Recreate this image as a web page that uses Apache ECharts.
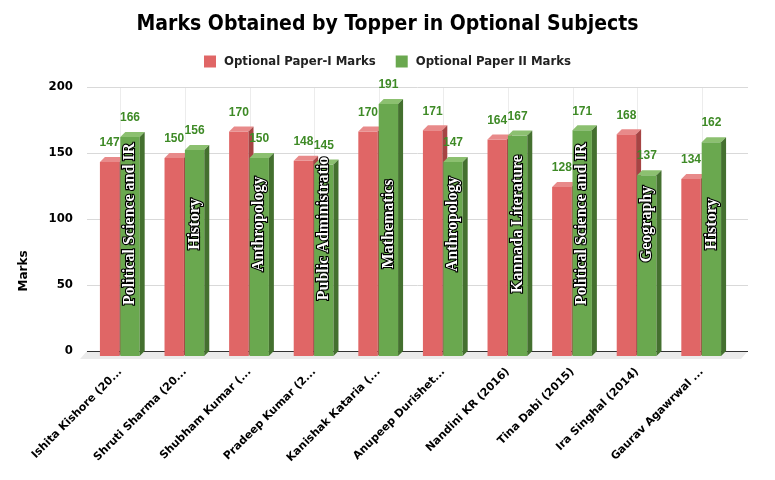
<!DOCTYPE html>
<html lang="en">
<head>
  <meta charset="UTF-8">
  <title>Marks Obtained by Topper</title>
  <script src="https://cdn.jsdelivr.net/npm/echarts@6/dist/echarts.min.js"></script>
</head>
<body style="margin:0">
  <div id="chart" style="width: 775px; height: 480px;"></div>
  <script>
    // toppers, years in brackets
    const toppers = ['Ishita Kishore (2022)', 'Shruti Sharma (2021)', 'Shubham Kumar (2020)', 'Pradeep Kumar (2019)',
      'Kanishak Kataria (2018)', 'Anupeep Durishetty (2017)', 'Nandini KR (2016)', 'Tina Dabi (2015)',
      'Ira Singhal (2014)', 'Gaurav Agawrwal (2013)']
    const subjects = ['Political Science and IR', 'History', 'Anthropology', 'Public Administration', 'Mathematics',
      'Anthropology', 'Kannada Literature', 'Political Science and IR', 'Geography', 'History']
    const paper1 = [147, 150, 170, 148, 170, 171, 164, 128, 168, 134]
    const paper2 = [166, 156, 150, 145, 191, 147, 167, 171, 137, 162]
    const yTicks = [0, 50, 100, 150, 200]

    const D = 5 // fake 3d depth
    const labelColor = '#3e8a26'
    const measureCtx = document.createElement('canvas').getContext('2d')
    measureCtx.font = 'bold 16px "Liberation Serif"'

    const chart = echarts.init(document.getElementById('chart'))

    // floor, gridlines, axis line
    function renderBack(params, api) {
      const cw = api.size([1, 0])[0]
      const left = api.coord([0, 0])[0] - cw / 2 - 1
      const right = api.coord([toppers.length - 1, 0])[0] + cw / 2 + 14
      const y0 = api.coord([0, 0])[1]
      const yTop = api.coord([0, yTicks[yTicks.length - 1]])[1]
      const children = [{
        type: 'polygon',
        shape: { points: [[left, y0], [right, y0], [right - 7, y0 + 8], [left - 7, y0 + 8]] },
        style: { fill: '#ebebeb' }
      }]
      toppers.forEach((n, i) => {
        const x = Math.round(api.coord([i, 0])[0]) + 0.5
        children.push({ type: 'line', shape: { x1: x, y1: yTop, x2: x, y2: y0 }, style: { stroke: '#ececec', lineWidth: 1 } })
      })
      yTicks.forEach(t => {
        const y = Math.round(api.coord([0, t])[1]) + 0.5
        children.push({
          type: 'line',
          shape: { x1: left, y1: y, x2: right, y2: y },
          style: { stroke: t === 0 ? '#333' : '#d9d9d9', lineWidth: t === 0 ? 1.2 : 1 }
        })
      })
      return { type: 'group', children }
    }

    function makeBar(colors, isGreen) {
      return function (params, api) {
        const i = api.value(0)
        const v = api.value(1)
        const [cx, yv] = api.coord([i, v])
        const y0 = api.coord([i, 0])[1]
        const bw = api.size([1, 0])[0] * 0.3
        const x1 = isGreen ? cx : cx - bw - 1
        const x2 = x1 + bw
        const children = [
          { type: 'rect', shape: { x: x1, y: yv + D, width: bw, height: y0 - yv }, style: { fill: colors[0] } },
          { type: 'polygon', shape: { points: [[x1, yv + D], [x2, yv + D], [x2 + D, yv], [x1 + D, yv]] }, style: { fill: colors[1] } },
          { type: 'polygon', shape: { points: [[x2, yv + D], [x2 + D, yv], [x2 + D, y0], [x2, y0 + D]] }, style: { fill: colors[2] } },
          {
            type: 'text', x: x1 + bw / 2, y: yv - 14,
            style: { text: String(v), fill: labelColor, font: 'bold 12px "Liberation Sans"', align: 'center', verticalAlign: 'middle' }
          }
        ]
        if (isGreen) {
          let s = subjects[i]
          const mid = (y0 + api.coord([i, yTicks[yTicks.length - 1]])[1]) / 2 + D
          const w = measureCtx.measureText(s).width
          const start = mid + w / 2
          const allowed = start - (yv + D - 15)
          while (measureCtx.measureText(s).width > allowed && s.length > 1) s = s.slice(0, -1)
          children.push({
            type: 'text', x: x1 + bw / 2, y: start, rotation: Math.PI / 2,
            style: {
              text: s, fill: '#fff', stroke: '#000', lineWidth: 2.2,
              font: 'bold 16px "Liberation Serif"', align: 'left', verticalAlign: 'middle'
            }
          })
        }
        return { type: 'group', children }
      }
    }

    const option = {
      title: {
        text: 'Marks Obtained by Topper in Optional Subjects',
        left: 'center',
        top: 9,
        textStyle: { fontFamily: 'DejaVu Sans Condensed', fontWeight: 'bold', fontSize: 21, color: '#000' }
      },
      legend: {
        top: 50,
        left: 'center',
        icon: 'rect',
        itemWidth: 12,
        itemHeight: 12,
        itemGap: 20,
        data: ['Optional Paper-I Marks', 'Optional Paper II Marks'],
        textStyle: { fontFamily: 'DejaVu Sans Condensed', fontWeight: 'bold', fontSize: 13, color: '#222', padding: [0, 0, 0, 3] }
      },
      grid: { left: 88, right: 41, top: 87, bottom: 129 },
      xAxis: {
        type: 'category',
        data: toppers,
        axisLine: { show: false },
        axisTick: { show: false },
        axisLabel: {
          interval: 0,
          rotate: 45,
          margin: 19,
          width: 130,
          overflow: 'truncate',
          fontFamily: 'DejaVu Sans',
          fontWeight: 'bold',
          fontSize: 11,
          color: '#000'
        }
      },
      yAxis: {
        type: 'value',
        min: 0,
        max: 200,
        interval: 50,
        name: 'Marks',
        nameLocation: 'middle',
        nameGap: 58,
        nameTextStyle: { fontFamily: 'DejaVu Sans', fontWeight: 'bold', fontSize: 12, color: '#000', padding: [0, 104, 0, 0] },
        axisLine: { show: false },
        axisTick: { show: false },
        splitLine: { show: false },
        axisLabel: { margin: 15, fontFamily: 'DejaVu Sans Condensed', fontWeight: 'bold', fontSize: 13, color: '#000' }
      },
      series: [
        {
          type: 'custom',
          silent: true,
          renderItem: renderBack,
          encode: { x: 0, y: 1 },
          data: [[0, 0]],
          z: 1
        },
        {
          name: 'Optional Paper-I Marks',
          type: 'custom',
          renderItem: makeBar(['#e06666', '#e88a8a', '#a64444'], false),
          itemStyle: { color: '#e06666' },
          encode: { x: 0, y: 1 },
          data: paper1.map((v, i) => [i, v]),
          z: 2
        },
        {
          name: 'Optional Paper II Marks',
          type: 'custom',
          renderItem: makeBar(['#6aa84f', '#8cc070', '#44702f'], true),
          itemStyle: { color: '#6aa84f' },
          encode: { x: 0, y: 1 },
          data: paper2.map((v, i) => [i, v]),
          z: 3
        }
      ]
    }

    chart.setOption(option)
  </script>
</body>
</html>
